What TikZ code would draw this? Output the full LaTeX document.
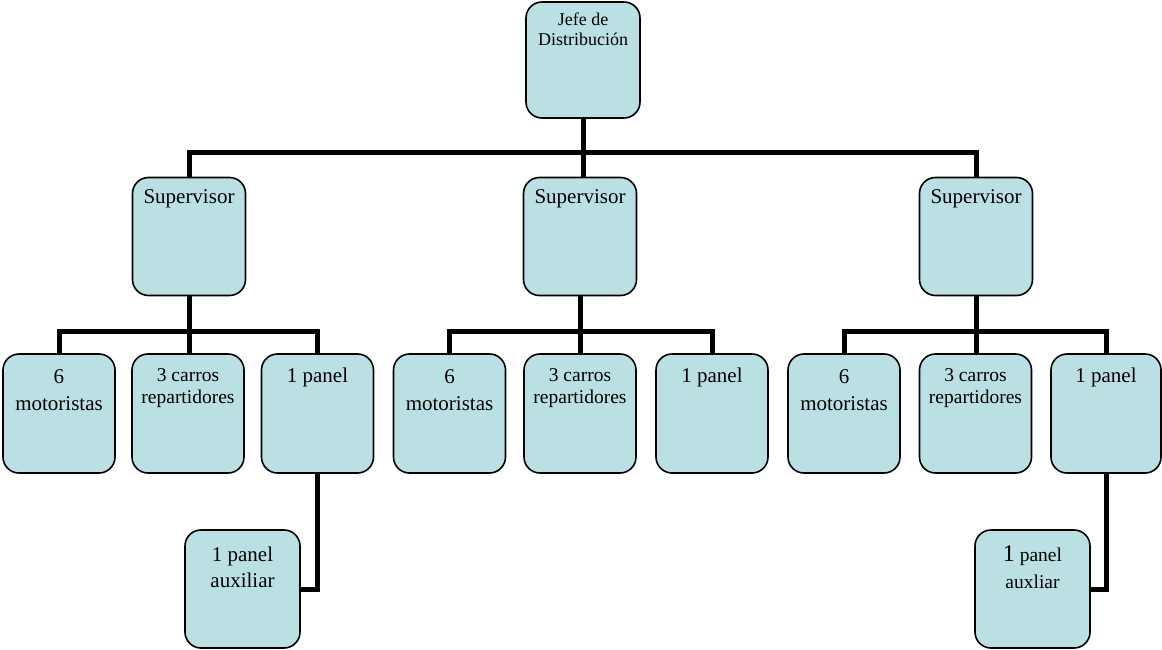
\documentclass[tikz,border=0pt]{standalone}
\usepackage{fontspec}
\setmainfont{Liberation Serif}
\definecolor{boxfill}{RGB}{187,224,227}
\begin{document}
\begin{tikzpicture}[x=1pt,y=-1pt,
  box/.style={draw=black, line width=1.6pt, fill=boxfill, rounded corners=16pt, inner sep=0pt, minimum width=112pt, minimum height=119pt},
  conn/.style={draw=black, line width=5pt},
  txt/.style={anchor=north, align=center, inner sep=0pt},
  fbig/.style={font=\fontsize{21}{27}\selectfont},
  fmid/.style={font=\fontsize{19.5}{22}\selectfont},
  fsmall/.style={font=\fontsize{18}{20}\selectfont}]
\useasboundingbox (0,0) rectangle (1162,650);

% boxes
\node[box, minimum width=114pt, minimum height=116pt] (jefe) at (583,60) {};
\node[box, minimum width=113pt, minimum height=118pt] (s1) at (189,236.5) {};
\node[box, minimum width=113pt, minimum height=118pt] (s2) at (580,236.5) {};
\node[box, minimum width=113pt, minimum height=118pt] (s3) at (976,236.5) {};

\node[box] (a1) at (59,413.5) {};
\node[box] (a2) at (188,413.5) {};
\node[box] (a3) at (317.5,413.5) {};
\node[box] (b1) at (449.5,413.5) {};
\node[box] (b2) at (580,413.5) {};
\node[box] (b3) at (712,413.5) {};
\node[box] (c1) at (844,413.5) {};
\node[box] (c2) at (975.5,413.5) {};
\node[box, minimum width=110pt] (c3) at (1106,413.5) {};

\node[box, minimum width=115pt, minimum height=118pt] (x1) at (242.5,589) {};
\node[box, minimum width=115pt, minimum height=118pt] (x2) at (1032.5,589) {};

% texts
\node[txt, fsmall] (tj) at (583,13) {Jefe de\\Distribución};
\node[txt, fbig] (ts1) at (189,189) {Supervisor};
\node[txt, fbig] (ts2) at (580,189) {Supervisor};
\node[txt, fbig] (ts3) at (976,189) {Supervisor};

\node[txt, fbig] (ta1) at (59,369) {6\\motoristas};
\node[txt, fmid] (ta2) at (188,368) {3 carros\\repartidores};
\node[txt, fbig] (ta3) at (317.5,368) {1 panel};
\node[txt, fbig] (tb1) at (449.5,369) {6\\motoristas};
\node[txt, fmid] (tb2) at (580,368) {3 carros\\repartidores};
\node[txt, fbig] (tb3) at (712,368) {1 panel};
\node[txt, fbig] (tc1) at (844,369) {6\\motoristas};
\node[txt, fmid] (tc2) at (975.5,368) {3 carros\\repartidores};
\node[txt, fbig] (tc3) at (1106,368) {1 panel};

\node[txt, font=\fontsize{21}{26}\selectfont] (tx1) at (242.5,547) {1 panel\\auxiliar};
\node[txt, font=\fontsize{19.5}{27}\selectfont] (tx2) at (1032.5,545) {{\fontsize{24}{26}\selectfont 1} panel\\auxliar};

% connectors
\coordinate (topbar) at (583,153);
\coordinate (bar1) at (188,331);
\coordinate (bar2) at (580,331);
\coordinate (bar3) at (976,331);

\draw[conn] (jefe.south) -- (jefe.south |- s2.north);
\draw[conn] (s1.north) |- (topbar) -| (s3.north);

\draw[conn] (s1.south) -- (s1.south |- a2.north);
\draw[conn] (a1.north) |- (bar1) -| (a3.north);
\draw[conn] (s2.south) -- (s2.south |- b2.north);
\draw[conn] (b1.north) |- (bar2) -| (b3.north);
\draw[conn] (s3.south) -- (s3.south |- c2.north);
\draw[conn] (c1.north) |- (bar3) -| (c3.north);

\draw[conn] (a3.south) |- (x1.east);
\draw[conn] (c3.south) |- (x2.east);
\end{tikzpicture}
\end{document}
